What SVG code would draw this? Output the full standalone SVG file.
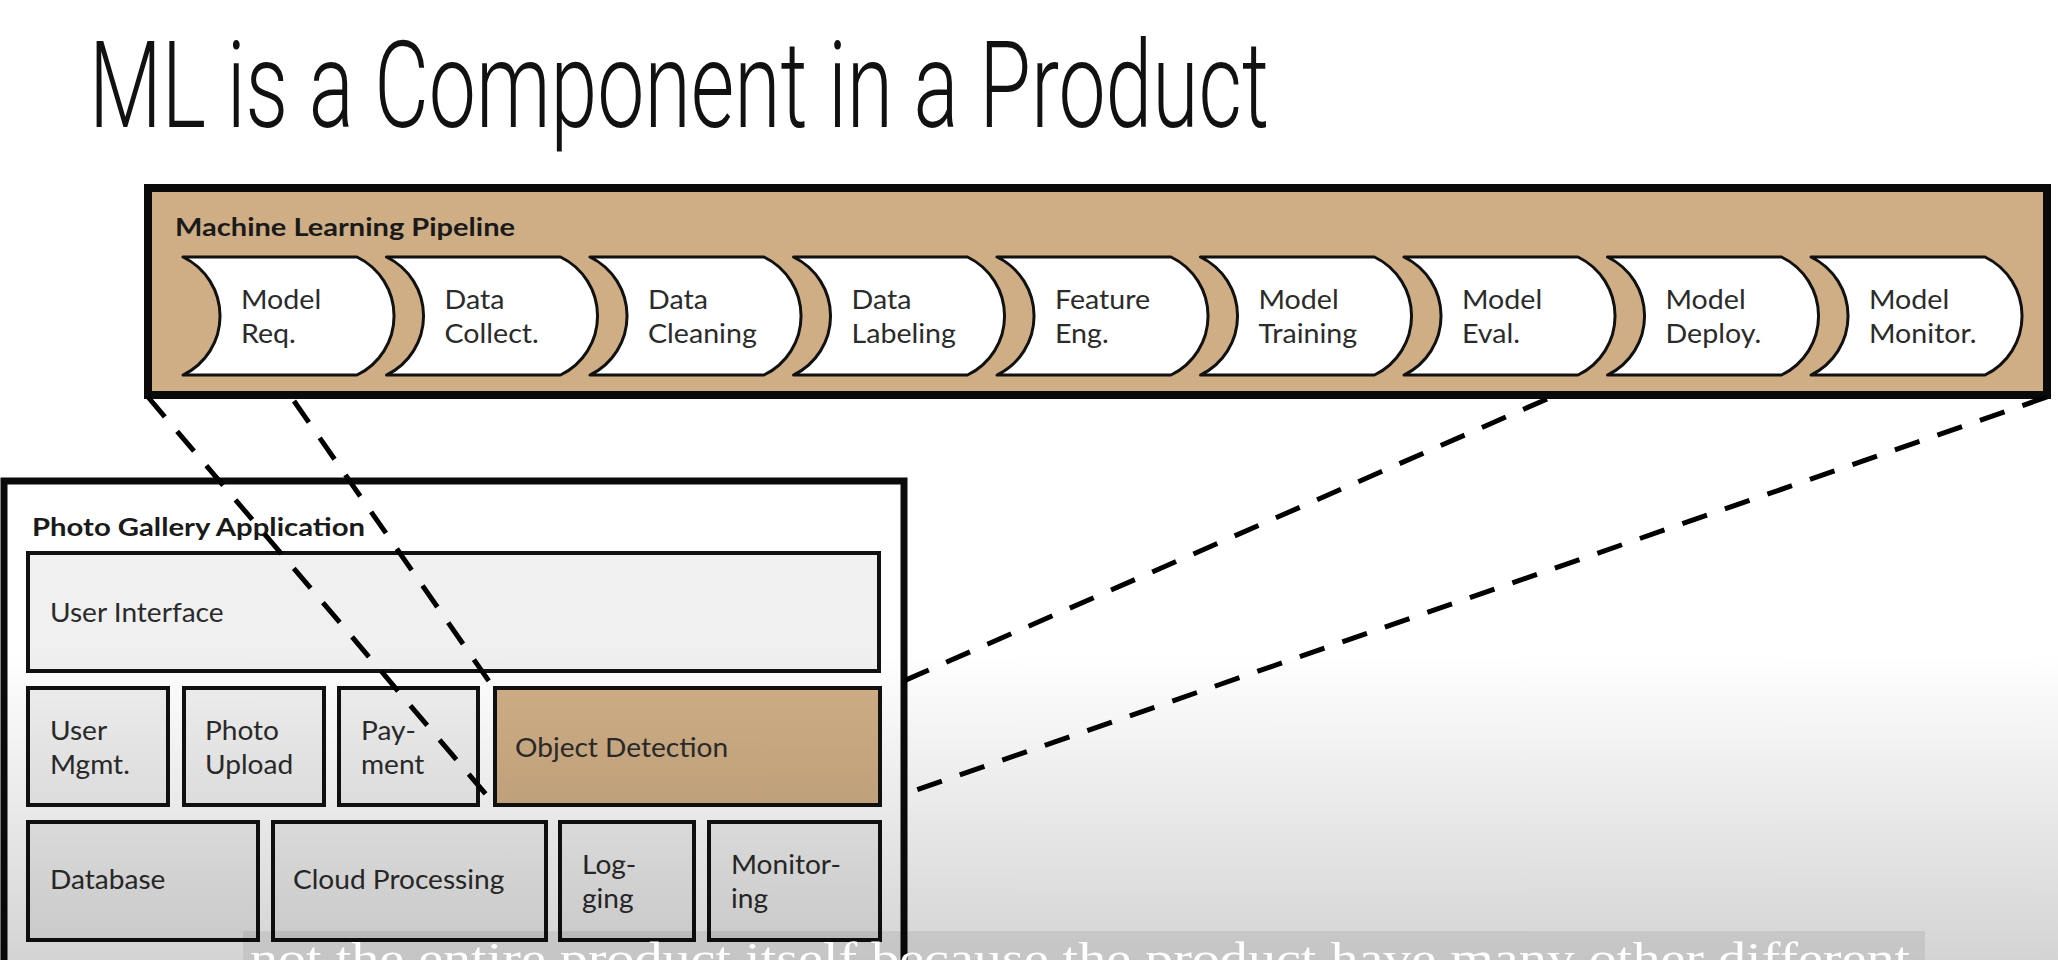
<svg xmlns="http://www.w3.org/2000/svg" xmlns:xlink="http://www.w3.org/1999/xlink" width="2058" height="960" viewBox="0 0 2058 960">
  <style>
    .title { font-family: Roboto, "Liberation Sans", sans-serif; font-weight: 300; font-size: 121px; fill: #111; }
    .head { font-family: Lato, "Liberation Sans", sans-serif; font-weight: 700; font-size: 25px; fill: #1a1a1a; }
    .lbl { font-family: Lato, "Liberation Sans", sans-serif; font-weight: 400; font-size: 26px; fill: #2b2b2b; }
    .stage { fill: #ffffff; stroke: #111; stroke-width: 3; stroke-linejoin: round; }
    .frame { fill: none; stroke: #0a0a0a; stroke-width: 7; }
    .pipe { fill: #cfae85; stroke: #0a0a0a; stroke-width: 8; }
    .cell { fill: #f0f0f0; stroke: #111; stroke-width: 4; }
    .cell-ml { fill: #d0af86; stroke: #111; stroke-width: 4; }
    .dash { fill: none; stroke: #000; stroke-width: 5; stroke-dasharray: 26 19; }
    .sub { font-family: "Liberation Serif", "DejaVu Serif", serif; font-size: 44px; fill: #ffffff; }
  </style>
  <defs>
    <!-- one pipeline step: concave left edge, convex right edge -->
    <path id="step" d="M0,257 H174 A65.5 65.5 0 0 1 174,375 H0 A65.5 65.5 0 0 0 0,257 Z"/>
    <linearGradient id="shade" x1="0" y1="0" x2="0" y2="1">
      <stop offset="0" stop-color="#000" stop-opacity="0"/>
      <stop offset="1" stop-color="#000" stop-opacity="0.17"/>
    </linearGradient>
  </defs>

  <rect width="2058" height="960" fill="#ffffff"/>

  <text class="title" x="89" y="127" textLength="1180" lengthAdjust="spacingAndGlyphs">ML is a Component in a Product</text>

  <!-- Machine learning pipeline -->
  <g id="ml-pipeline">
    <rect class="pipe" x="148" y="188" width="1899" height="207"/>
    <text class="head" x="175" y="236" textLength="340" lengthAdjust="spacingAndGlyphs">Machine Learning Pipeline</text>
  </g>
  <g id="step-model-req" transform="translate(183,0)">
    <use xlink:href="#step" class="stage"/>
    <g transform="translate(58,0) scale(1.1,1)"><text class="lbl" y="309">Model</text><text class="lbl" y="343">Req.</text></g>
  </g>
  <g id="step-data-collect" transform="translate(386.5,0)">
    <use xlink:href="#step" class="stage"/>
    <g transform="translate(58,0) scale(1.1,1)"><text class="lbl" y="309">Data</text><text class="lbl" y="343">Collect.</text></g>
  </g>
  <g id="step-data-cleaning" transform="translate(590,0)">
    <use xlink:href="#step" class="stage"/>
    <g transform="translate(58,0) scale(1.1,1)"><text class="lbl" y="309">Data</text><text class="lbl" y="343">Cleaning</text></g>
  </g>
  <g id="step-data-labeling" transform="translate(793.5,0)">
    <use xlink:href="#step" class="stage"/>
    <g transform="translate(58,0) scale(1.1,1)"><text class="lbl" y="309">Data</text><text class="lbl" y="343">Labeling</text></g>
  </g>
  <g id="step-feature-eng" transform="translate(997,0)">
    <use xlink:href="#step" class="stage"/>
    <g transform="translate(58,0) scale(1.1,1)"><text class="lbl" y="309">Feature</text><text class="lbl" y="343">Eng.</text></g>
  </g>
  <g id="step-model-training" transform="translate(1200.5,0)">
    <use xlink:href="#step" class="stage"/>
    <g transform="translate(58,0) scale(1.1,1)"><text class="lbl" y="309">Model</text><text class="lbl" y="343">Training</text></g>
  </g>
  <g id="step-model-eval" transform="translate(1404,0)">
    <use xlink:href="#step" class="stage"/>
    <g transform="translate(58,0) scale(1.1,1)"><text class="lbl" y="309">Model</text><text class="lbl" y="343">Eval.</text></g>
  </g>
  <g id="step-model-deploy" transform="translate(1607.5,0)">
    <use xlink:href="#step" class="stage"/>
    <g transform="translate(58,0) scale(1.1,1)"><text class="lbl" y="309">Model</text><text class="lbl" y="343">Deploy.</text></g>
  </g>
  <g id="step-model-monitor" transform="translate(1811,0)">
    <use xlink:href="#step" class="stage"/>
    <g transform="translate(58,0) scale(1.1,1)"><text class="lbl" y="309">Model</text><text class="lbl" y="343">Monitor.</text></g>
  </g>

  <!-- Photo gallery application -->
  <g id="photo-gallery">
    <rect class="frame" x="4" y="481" width="900" height="600"/>
    <text class="head" x="32" y="536" textLength="333" lengthAdjust="spacingAndGlyphs">Photo Gallery Application</text>
  </g>
  <g id="user-interface">
    <rect class="cell" x="28" y="553" width="851" height="118"/>
    <g transform="translate(50,0) scale(1.08,1)"><text class="lbl" y="622">User Interface</text></g>
  </g>
  <g id="user-mgmt">
    <rect class="cell" x="28" y="688" width="140" height="117"/>
    <g transform="translate(50,0) scale(1.08,1)"><text class="lbl" y="740">User</text><text class="lbl" y="774">Mgmt.</text></g>
  </g>
  <g id="photo-upload">
    <rect class="cell" x="184" y="688" width="140" height="117"/>
    <g transform="translate(205,0) scale(1.08,1)"><text class="lbl" y="740">Photo</text><text class="lbl" y="774">Upload</text></g>
  </g>
  <g id="payment">
    <rect class="cell" x="339" y="688" width="139" height="117"/>
    <g transform="translate(361,0) scale(1.08,1)"><text class="lbl" y="740">Pay-</text><text class="lbl" y="774">ment</text></g>
  </g>
  <g id="object-detection">
    <rect class="cell-ml" x="495" y="688" width="385" height="117"/>
    <g transform="translate(515,0) scale(1.08,1)"><text class="lbl" y="757">Object Detection</text></g>
  </g>
  <g id="database">
    <rect class="cell" x="28" y="822" width="230" height="118"/>
    <g transform="translate(50,0) scale(1.08,1)"><text class="lbl" y="889">Database</text></g>
  </g>
  <g id="cloud-processing">
    <rect class="cell" x="273" y="822" width="273" height="118"/>
    <g transform="translate(293,0) scale(1.08,1)"><text class="lbl" y="889">Cloud Processing</text></g>
  </g>
  <g id="logging">
    <rect class="cell" x="560" y="822" width="134" height="118"/>
    <g transform="translate(582,0) scale(1.08,1)"><text class="lbl" y="874">Log-</text><text class="lbl" y="908">ging</text></g>
  </g>
  <g id="monitoring">
    <rect class="cell" x="709" y="822" width="171" height="118"/>
    <g transform="translate(731,0) scale(1.08,1)"><text class="lbl" y="874">Monitor-</text><text class="lbl" y="908">ing</text></g>
  </g>

  <!-- zoom lines from the pipeline down to the object detection component -->
  <g id="connectors">
    <line class="dash" x1="148" y1="397" x2="495" y2="805"/>
    <line class="dash" x1="294" y1="401" x2="493" y2="687"/>
    <line class="dash" x1="1547" y1="399" x2="899" y2="683"/>
    <line class="dash" x1="2047" y1="397" x2="902" y2="795"/>
  </g>

  <!-- lower shading -->
  <rect x="0" y="650" width="2058" height="310" fill="url(#shade)"/>

  <!-- caption strip -->
  <rect x="243" y="931" width="1682" height="29" fill="#000" fill-opacity="0.07"/>
  <text class="sub" x="250" y="973" textLength="1660" lengthAdjust="spacingAndGlyphs">not the entire product itself because the product have many other different</text>
</svg>
